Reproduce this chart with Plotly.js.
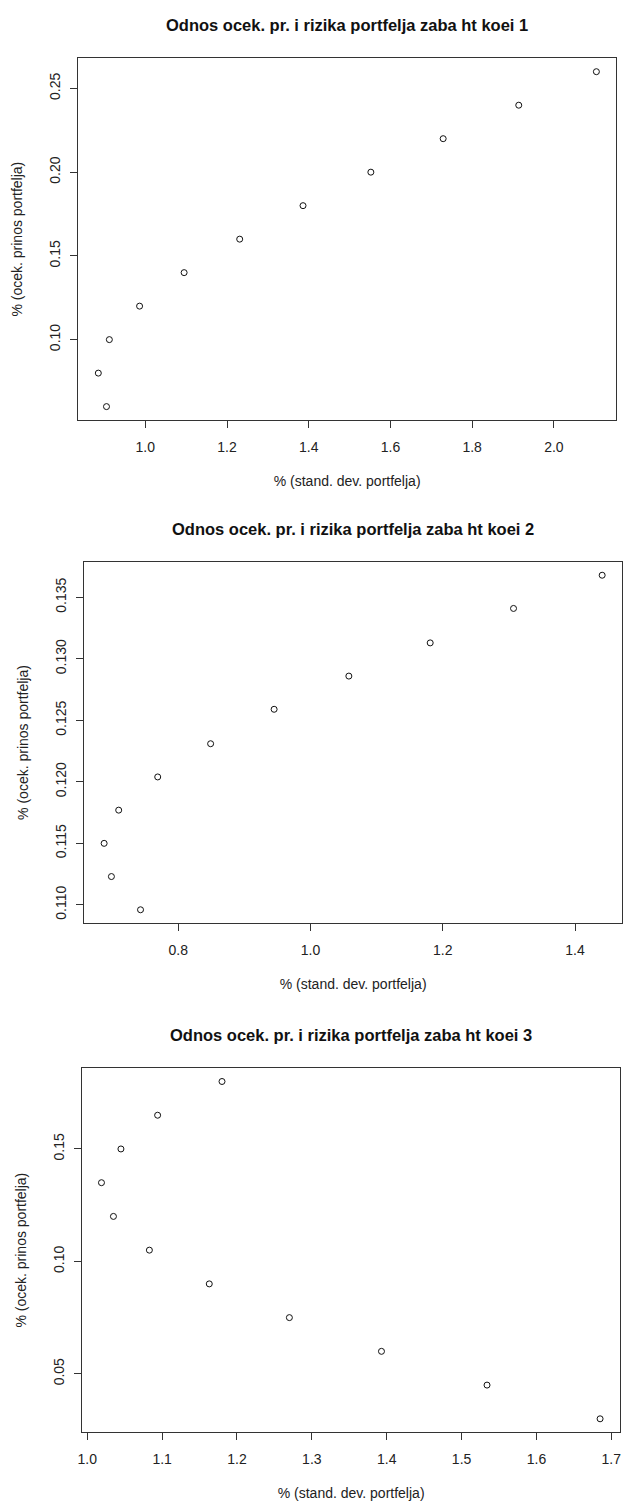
<!DOCTYPE html>
<html>
<head>
<meta charset="utf-8">
<script src="https://cdn.plot.ly/plotly-3.0.1.min.js"></script>
<style>html,body{margin:0;padding:0;background:#fff;}#chart{width:624px;height:1503px;}</style>
</head>
<body>
<div id="chart"></div>
<script>
// Plot 1 : koei 1
const sd1  = [0.885, 0.905, 0.912, 0.986, 1.095, 1.231, 1.386, 1.552, 1.729, 1.914, 2.104];
const ret1 = [0.080, 0.060, 0.100, 0.120, 0.140, 0.160, 0.180, 0.200, 0.220, 0.240, 0.260];
// Plot 2 : koei 2
const sd2  = [0.743, 0.699, 0.688, 0.710, 0.769, 0.849, 0.945, 1.058, 1.181, 1.307, 1.441];
const ret2 = [0.1096, 0.1123, 0.1150, 0.1177, 0.1204, 0.1231, 0.1259, 0.1286, 0.1313, 0.1341, 0.1368];
// Plot 3 : koei 3
const sd3  = [1.685, 1.534, 1.393, 1.270, 1.163, 1.083, 1.035, 1.019, 1.045, 1.094, 1.180];
const ret3 = [0.030, 0.045, 0.060, 0.075, 0.090, 0.105, 0.120, 0.135, 0.150, 0.165, 0.180];

const titles = [
  "Odnos ocek. pr. i rizika portfelja zaba ht koei 1",
  "Odnos ocek. pr. i rizika portfelja zaba ht koei 2",
  "Odnos ocek. pr. i rizika portfelja zaba ht koei 3"
];
const xTitle = "% (stand. dev. portfelja)";
const yTitle = "% (ocek. prinos portfelja)";

const W = 624, H = 1503;
const FONT = "Liberation Sans, Arial, sans-serif";
const TXT = "#222";

function mk(x, y, ax) {
  return {
    x: x, y: y, xaxis: 'x' + ax, yaxis: 'y' + ax,
    type: 'scatter', mode: 'markers', showlegend: false, hoverinfo: 'skip',
    marker: {symbol: 'circle-open', size: 6, color: '#111', line: {width: 1, color: '#111'}}
  };
}
const data = [mk(sd1, ret1, ''), mk(sd2, ret2, '2'), mk(sd3, ret3, '3')];

// pixel boxes [left, right, top, bottom]
const boxes = [[78.3, 616, 58.3, 420], [84.3, 622, 561.7, 923.3], [82.3, 620, 1068, 1432.3]];
const xr = [[0.836, 2.152], [0.658, 1.471], [0.9934, 1.7116]];
const yr = [[0.052, 0.268], [0.1085, 0.1379], [0.024, 0.186]];
const xd = [0.2, 0.2, 0.1], yd = [0.05, 0.005, 0.05];
const yf = ['.2f', '.3f', '.2f'];

const common = {
  showgrid: false, zeroline: false, showline: true, mirror: true,
  linecolor: '#333', linewidth: 1, ticks: 'outside', ticklen: 7, tickwidth: 1, tickcolor: '#333',
  tickfont: {family: FONT, size: 14, color: TXT}, fixedrange: true
};

const layout = {
  width: W, height: H, margin: {l: 0, r: 0, t: 0, b: 0},
  paper_bgcolor: '#fff', plot_bgcolor: '#fff', showlegend: false,
  font: {family: FONT, color: TXT},
  annotations: []
};

for (let i = 0; i < 3; i++) {
  const s = i === 0 ? '' : String(i + 1);
  const b = boxes[i];
  layout['xaxis' + s] = Object.assign({}, common, {
    domain: [b[0] / W, b[1] / W], range: xr[i], anchor: 'y' + s,
    tick0: 0, dtick: xd[i], tickformat: '.1f', ticklabelstandoff: 7,
    title: {text: xTitle, font: {family: FONT, size: 14, color: TXT}, standoff: 22}
  });
  layout['yaxis' + s] = Object.assign({}, common, {
    domain: [1 - b[3] / H, 1 - b[2] / H], range: yr[i], anchor: 'x' + s,
    tick0: 0, dtick: yd[i], tickformat: yf[i], tickangle: -90, ticklabelstandoff: 5,
    title: {text: yTitle, font: {family: FONT, size: 14, color: TXT}, standoff: 20}
  });
  layout.annotations.push({
    text: titles[i], xref: 'paper', yref: 'paper',
    x: ((b[0] + b[1]) / 2) / W, y: 1 - (b[2] - 33) / H,
    xanchor: 'center', yanchor: 'middle', showarrow: false,
    font: {family: FONT, size: 16.5, color: '#111', weight: 'bold'}
  });
}

Plotly.newPlot('chart', data, layout, {staticPlot: true, displayModeBar: false});
</script>
</body>
</html>
